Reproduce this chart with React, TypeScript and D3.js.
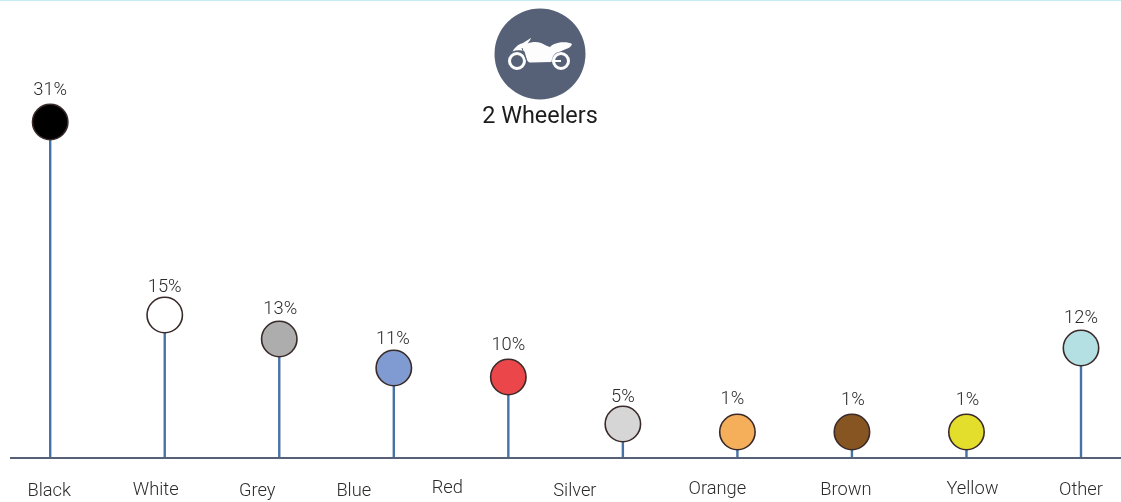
import React from "react";
import * as d3 from "d3";

const categories = ["Black", "White", "Grey", "Blue", "Red", "Silver", "Orange", "Brown", "Yellow", "Other"];
const shares = [31, 15, 13, 11, 10, 5, 1, 1, 1, 12];
const dotColors = ["#000000", "#ffffff", "#adadad", "#7f9bd1", "#eb4649", "#d6d6d6", "#f5ae5a", "#875522", "#e3dd2c", "#b4dfe3"];

// Height axis is non-linear: small shares are stretched so the dots clear the baseline.
const axisShares = [1, 5, 10, 11, 12, 13, 15, 31];
const axisHeights = [26, 34, 81, 90, 110, 119, 143, 336];

// Hand-placed category labels, relative to each stem.
const labelShiftX = [-1, -9, -22, -40, -61, -48, -20, -6, 6, 0];
const labelY = [496.3, 495.3, 496.3, 496.3, 493.3, 496.3, 494.3, 495.3, 494.3, 495.3];

// Hand-placed percentage labels, relative to each dot.
const valueShiftX = [0, 0, 1, -1, 0, 0, -5, 1, 1, 0];
const valueShiftY = [-27, -23, -25, -24, -27, -22, -28, -27, -27, -25];

const WIDTH = 1121;
const HEIGHT = 502;
const BASELINE = 458;
const FONT = "Roboto, sans-serif";

const x = d3.scalePoint<string>().domain(categories).range([50.2, 1081]);
const y = d3.scaleLinear().domain(axisShares).range(axisHeights.map((h) => BASELINE - h));

const bodyPath =
  "M512.5 51.5 C516 46 519 44 523 43 C526 41 529 39.5 531 37.8 C530.5 40 529 41.5 527.5 43.5 " +
  "C532 41.5 537 41.5 541 43 C544 44 547 46.5 550 47 C552 44.5 556 43 561 42.3 C566 42 570 42.5 572 44 " +
  "C571 47 569 48 566 49 C562 51 558 52 556 53 C553 55 552 58 551.5 62 L531 62.5 C529 62.5 528 62 527 60 " +
  "L524.5 51.5 C520 49.5 516 50 512.5 51.5 Z";

export default function App() {
  return (
    <svg
      width={WIDTH}
      height={HEIGHT}
      viewBox={`0 0 ${WIDTH} ${HEIGHT}`}
      style={{ position: "absolute", left: 0, top: 0, background: "#fff", fontFamily: FONT }}
    >
      <rect x={0} y={0} width={WIDTH} height={1} fill="#c5eaf0" />

      {/* Heading badge with the motorcycle icon */}
      <circle cx={540} cy={54} r={45.5} fill="#566178" />
      <g fill="none" stroke="#fdfdfd" strokeWidth={3}>
        <circle cx={517} cy={61} r={7.5} />
        <circle cx={561} cy={61} r={7.5} />
      </g>
      <path d="M561 61 H552" stroke="#fdfdfd" strokeWidth={2} />
      <path d={bodyPath} fill="#fdfdfd" />
      <path d="M522 48 L527 62" stroke="#566178" strokeWidth={1} />

      {categories.map((name, i) => {
        const cx = x(name) as number;
        const cy = y(shares[i]);
        return (
          <g key={name}>
            <line x1={cx} x2={cx} y1={cy} y2={BASELINE} stroke="#4673a6" strokeWidth={2.4} />
            <circle cx={cx} cy={cy} r={17.7} fill={dotColors[i]} stroke="#3a2a2a" strokeWidth={1.6} />
          </g>
        );
      })}

      <line x1={10} x2={WIDTH} y1={BASELINE} y2={BASELINE} stroke="#566178" strokeWidth={2.2} />

      {/* Greyscale filter keeps the glyph edges neutral */}
      <g style={{ filter: "grayscale(1)" }}>
        <text x={540} y={123} textAnchor="middle" fontSize={23.4} fontWeight={400} fill="#1c1c1c">
          2 Wheelers
        </text>
        {categories.map((name, i) => {
          const cx = x(name) as number;
          const cy = y(shares[i]);
          return (
            <g key={name}>
              <text
                x={cx + valueShiftX[i]}
                y={cy + valueShiftY[i]}
                textAnchor="middle"
                fontSize={18.3}
                fontWeight={300}
                fill="#2b2b2b"
              >
                {shares[i]}%
              </text>
              <text
                x={cx + labelShiftX[i]}
                y={labelY[i]}
                textAnchor="middle"
                fontSize={18.3}
                fontWeight={300}
                fill="#2b2b2b"
              >
                {name}
              </text>
            </g>
          );
        })}
      </g>
    </svg>
  );
}
